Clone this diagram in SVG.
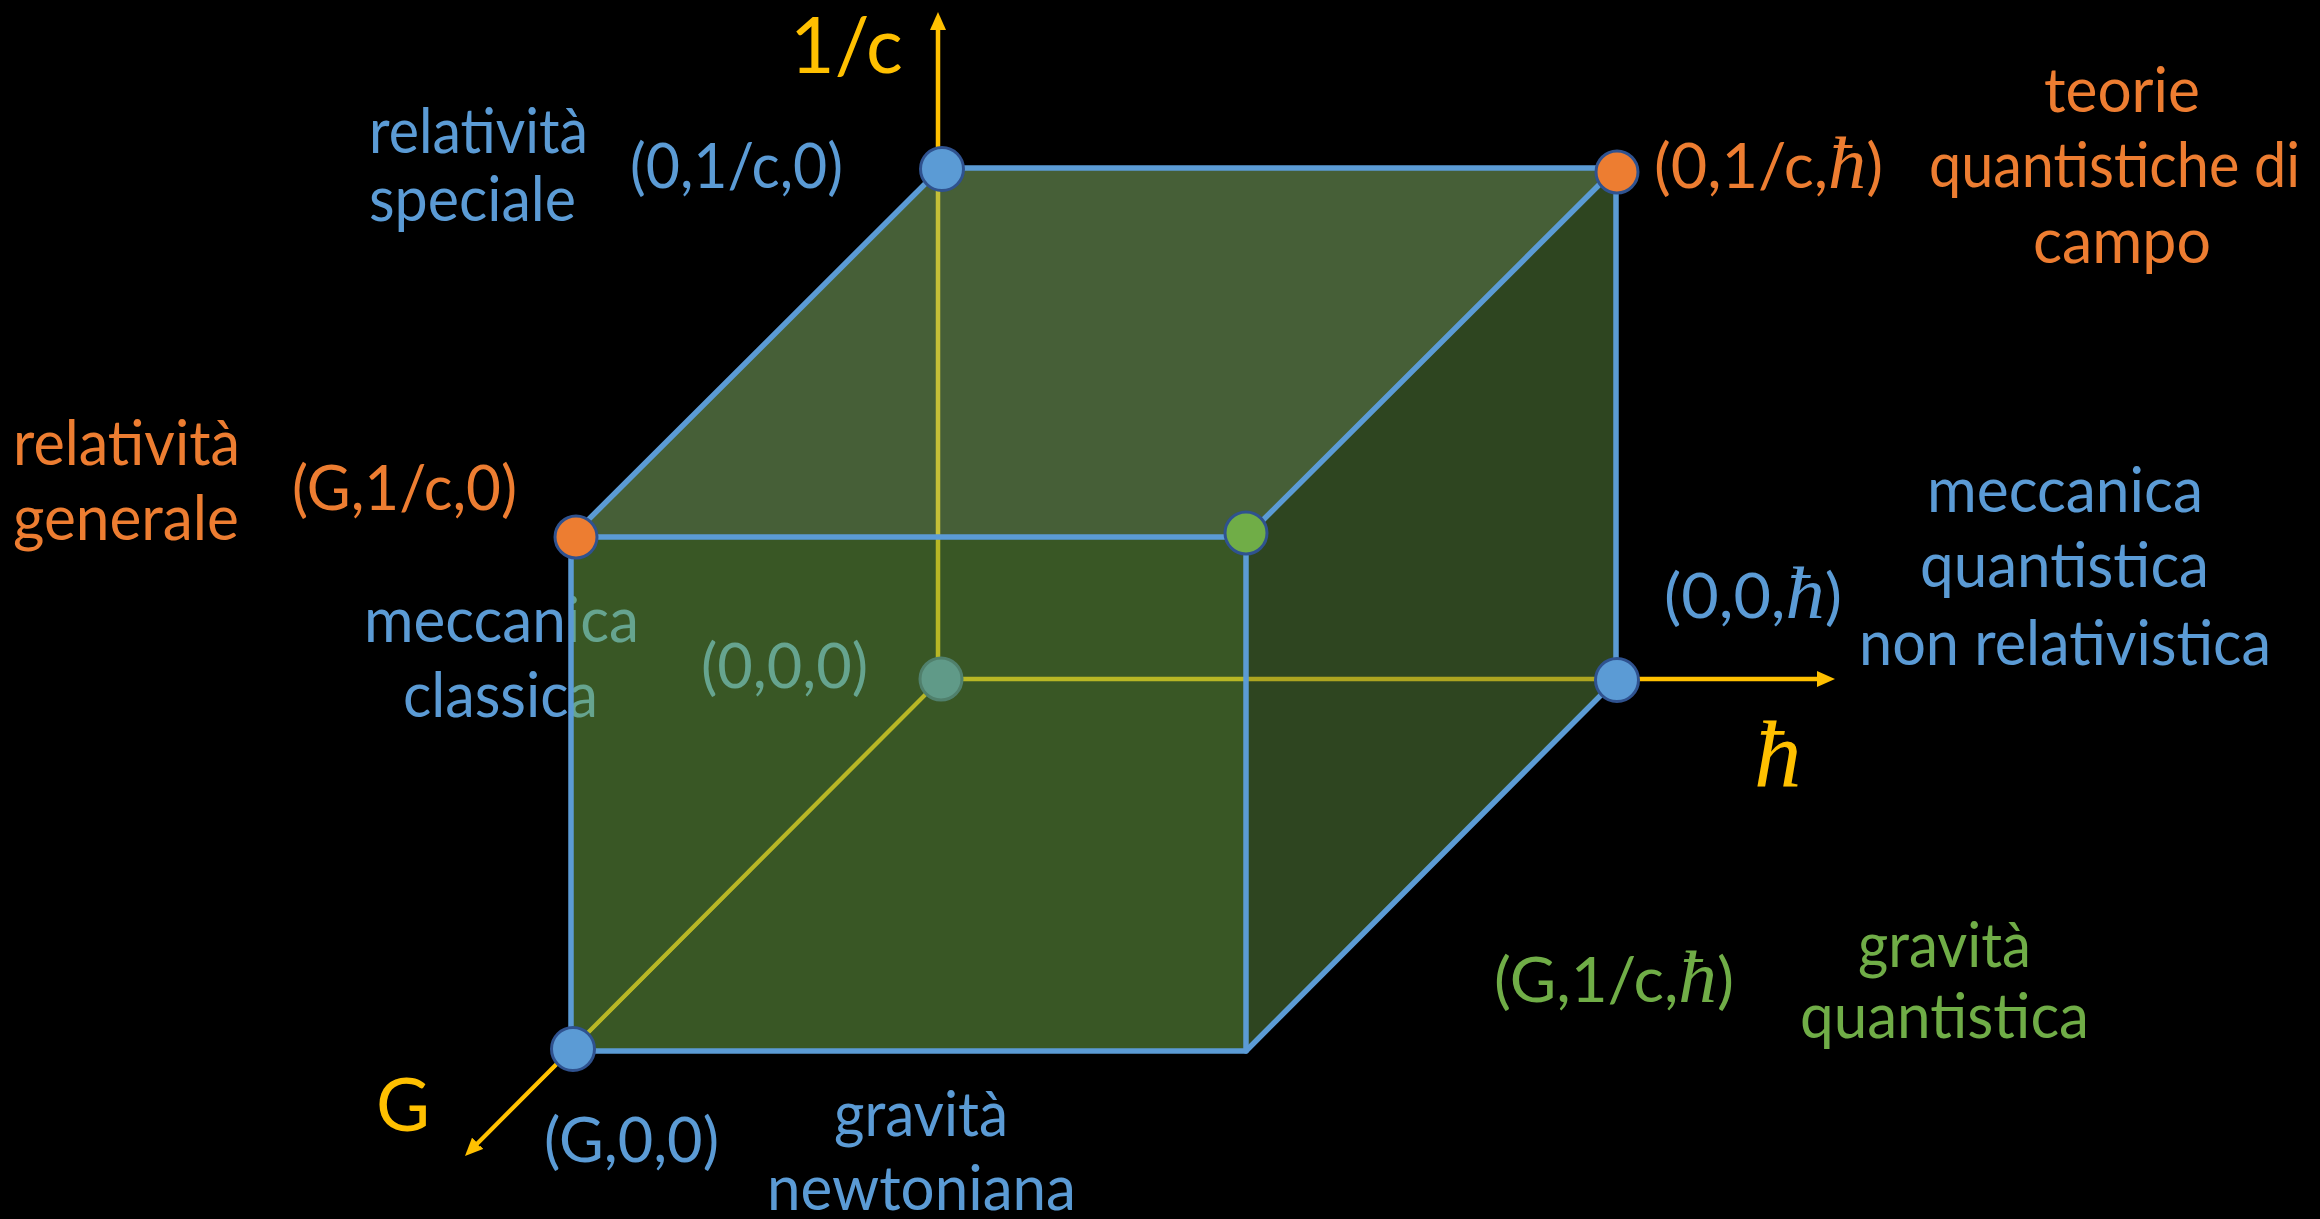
<svg xmlns="http://www.w3.org/2000/svg" width="2320" height="1219" viewBox="0 0 2320 1219">
<defs>
<style>
text{font-family:Lato,"Open Sans","Liberation Sans",sans-serif;font-size:61px}
.b{fill:#5B9BD5}
.o{fill:#ED7D31}
.g{fill:#70AD47}
.y{fill:#FFC000}
.h{font-family:"Liberation Serif","DejaVu Serif",serif;font-style:italic;font-size:74px}
.ax{stroke:#FFC000;stroke-width:4.5;fill:none}
.edge{stroke:#5B9BD5;stroke-width:5.5;stroke-linecap:round;stroke-linejoin:round;fill:none}
.v{stroke:#2F528F;stroke-width:3}
.face{opacity:0.5}
</style>
<marker id="arr" viewBox="0 0 18 16" refX="1" refY="8" markerWidth="18" markerHeight="16" markerUnits="userSpaceOnUse" orient="auto">
<path d="M0,0 L18,8 L0,16 z" fill="#FFC000"/>
</marker>
</defs>
<rect width="2320" height="1219" fill="#000"/>

<g id="axes">
<line class="ax" x1="938" y1="679" x2="938" y2="29" marker-end="url(#arr)"/>
<line class="ax" x1="941" y1="679" x2="1818" y2="679" marker-end="url(#arr)"/>
<line class="ax" x1="941" y1="679" x2="477" y2="1144" stroke-width="7" marker-end="url(#arr)"/>
<line x1="943" y1="681" x2="479" y2="1146" stroke="#000" stroke-width="1.2"/>
<text class="y" x="790" y="73" style="font-size:77px">1/c</text>
<text class="y" x="376" y="1131" style="font-size:74px">G</text>
<text class="y h" x="1754" y="787" style="font-size:95px">ħ</text>
</g>

<g id="node-000">
<circle cx="941" cy="679" r="21" fill="#4F86C6" class="v"/>
<text class="b" x="701" y="688" textLength="167" lengthAdjust="spacingAndGlyphs">(0,0,0)</text>
<text class="b" x="364" y="642" textLength="275" lengthAdjust="spacingAndGlyphs">meccanica</text>
<text class="b" x="403" y="717" textLength="195" lengthAdjust="spacingAndGlyphs">classica</text>
</g>

<g id="faces">
<polygon class="face" fill="#8CBE6E" points="941,168 1616,168 1246,537 571,537"/>
<polygon class="face" fill="#72AE4A" points="571,537 1246,537 1246,1051 571,1051"/>
<polygon class="face" fill="#5C8A40" points="1246,537 1616,168 1616,680 1246,1051"/>
</g>

<g id="connectors">
<polyline class="edge" points="571,1051 571,537 941,168 1616,168 1616,680 1246,1051 571,1051"/>
<polyline class="edge" points="571,537 1246,537 1616,168"/>
<line class="edge" x1="1246" y1="537" x2="1246" y2="1051"/>
</g>

<g id="node-01c0">
<circle cx="942" cy="169" r="21.5" fill="#5B9BD5" class="v"/>
<text class="b" x="630" y="188" textLength="213" lengthAdjust="spacingAndGlyphs">(0,1/c,0)</text>
<text class="b" x="369" y="153" textLength="219" lengthAdjust="spacingAndGlyphs">relatività</text>
<text class="b" x="369" y="221" textLength="207" lengthAdjust="spacingAndGlyphs">speciale</text>
</g>

<g id="node-01ch">
<circle cx="1617" cy="172" r="21" fill="#ED7D31" class="v"/>
<text class="o" x="1654" y="188" textLength="229" lengthAdjust="spacingAndGlyphs">(0,1/c,<tspan class="h">ħ</tspan>)</text>
<text class="o" x="2044" y="112" textLength="156" lengthAdjust="spacingAndGlyphs">teorie</text>
<text class="o" x="1929" y="187" textLength="371" lengthAdjust="spacingAndGlyphs">quantistiche di</text>
<text class="o" x="2033" y="263" textLength="178" lengthAdjust="spacingAndGlyphs">campo</text>
</g>

<g id="node-G1c0">
<circle cx="576" cy="537" r="21" fill="#ED7D31" class="v"/>
<text class="o" x="292" y="510" textLength="225" lengthAdjust="spacingAndGlyphs">(G,1/c,0)</text>
<text class="o" x="13" y="465" textLength="227" lengthAdjust="spacingAndGlyphs">relatività</text>
<text class="o" x="13" y="540" textLength="226" lengthAdjust="spacingAndGlyphs">generale</text>
</g>

<g id="node-G1ch">
<circle cx="1246" cy="533" r="21" fill="#70AD47" class="v"/>
<text class="g" x="1494" y="1002" textLength="240" lengthAdjust="spacingAndGlyphs">(G,1/c,<tspan class="h">ħ</tspan>)</text>
<text class="g" x="1858" y="967" textLength="173" lengthAdjust="spacingAndGlyphs">gravità</text>
<text class="g" x="1800" y="1038" textLength="289" lengthAdjust="spacingAndGlyphs">quantistica</text>
</g>

<g id="node-00h">
<circle cx="1617" cy="680" r="21.5" fill="#5B9BD5" class="v"/>
<text class="b" x="1664" y="618" textLength="178" lengthAdjust="spacingAndGlyphs">(0,0,<tspan class="h">ħ</tspan>)</text>
<text class="b" x="1927" y="512" textLength="276" lengthAdjust="spacingAndGlyphs">meccanica</text>
<text class="b" x="1920" y="587" textLength="289" lengthAdjust="spacingAndGlyphs">quantistica</text>
<text class="b" x="1859" y="665" textLength="412" lengthAdjust="spacingAndGlyphs">non relativistica</text>
</g>

<g id="node-G00">
<circle cx="573" cy="1049" r="21.5" fill="#5B9BD5" class="v"/>
<text class="b" x="544" y="1162" textLength="175" lengthAdjust="spacingAndGlyphs">(G,0,0)</text>
<text class="b" x="834" y="1136" textLength="174" lengthAdjust="spacingAndGlyphs">gravità</text>
<text class="b" x="767" y="1210" textLength="309" lengthAdjust="spacingAndGlyphs">newtoniana</text>
</g>
</svg>
